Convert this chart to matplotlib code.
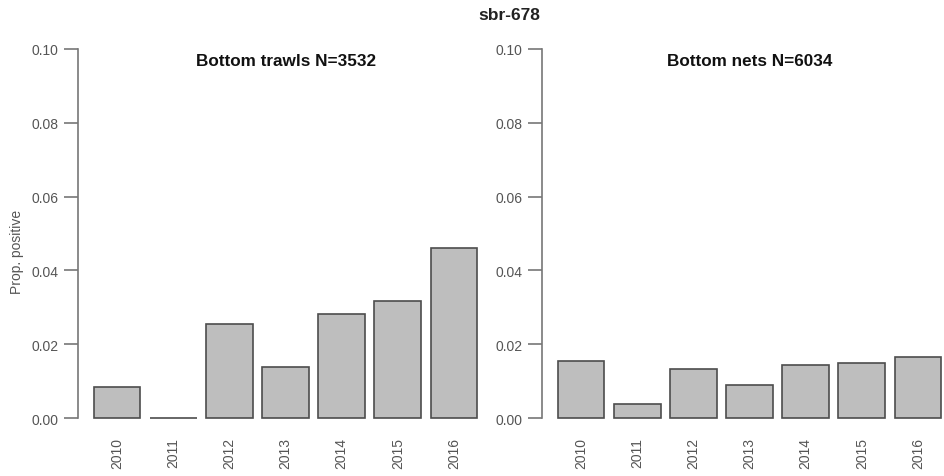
import matplotlib
matplotlib.use("Agg")
import matplotlib.pyplot as plt
import numpy as np

plt.rcParams['font.family'] = ['Liberation Sans', 'DejaVu Sans']

years = ["2010", "2011", "2012", "2013", "2014", "2015", "2016"]
trawls = [0.0084, 0.0, 0.0255, 0.0138, 0.0282, 0.0318, 0.0460]
nets = [0.0156, 0.0039, 0.0134, 0.0090, 0.0144, 0.0149, 0.0167]
panel_titles = ["Bottom trawls N=3532", "Bottom nets N=6034"]
main_title = "sbr-678"
y_label = "Prop. positive"

W, H = 944, 477
fig = plt.figure(figsize=(W / 100, H / 100), dpi=100)

# R barplot layout: width 1, space 0.2
x = 0.2 + 0.5 + 1.2 * np.arange(len(years))
axis_col = '#777777'
text_col = '#555555'


def draw_panel(left_px, values, title):
    ax = fig.add_axes([left_px / W, 1 - 434 / H, 415 / W, (434 - 35) / H])
    ax.bar(x, values, width=1.0, color='#bebebe', edgecolor='#4d4d4d', linewidth=1.2)
    ax.set_xlim(-0.136, 8.736)
    ax.set_ylim(-0.004, 0.104)
    for s in ['top', 'right', 'bottom']:
        ax.spines[s].set_visible(False)
    ax.spines['left'].set_bounds(0, 0.1)
    ax.spines['left'].set_color(axis_col)
    ax.spines['left'].set_linewidth(1.2)
    ax.set_yticks([0, 0.02, 0.04, 0.06, 0.08, 0.10])
    ax.set_yticklabels(["0.00", "0.02", "0.04", "0.06", "0.08", "0.10"])
    ax.tick_params(axis='y', length=10, width=1.2, color=axis_col, labelcolor=text_col,
                   labelsize=10, pad=4)
    ax.set_xticks(x)
    ax.set_xticklabels(years, rotation=90)
    ax.tick_params(axis='x', length=0, labelcolor=text_col, labelsize=10, pad=3)
    ax.text(0.5, 1 - (61.7 - 35) / (434 - 35), title, transform=ax.transAxes,
            ha='center', va='center', fontsize=12.3, fontweight='bold', color='#111111')
    return ax


draw_panel(78, trawls, panel_titles[0])
draw_panel(542, nets, panel_titles[1])

fig.text(509 / W, 1 - 15 / H, main_title, ha='center', va='center',
         fontsize=12.5, fontweight='bold', color='#222222')
fig.text(17 / W, 1 - 252 / H, y_label, rotation=90, ha='center', va='center',
         fontsize=10, color=text_col)

fig.savefig("out.png", dpi=100)
